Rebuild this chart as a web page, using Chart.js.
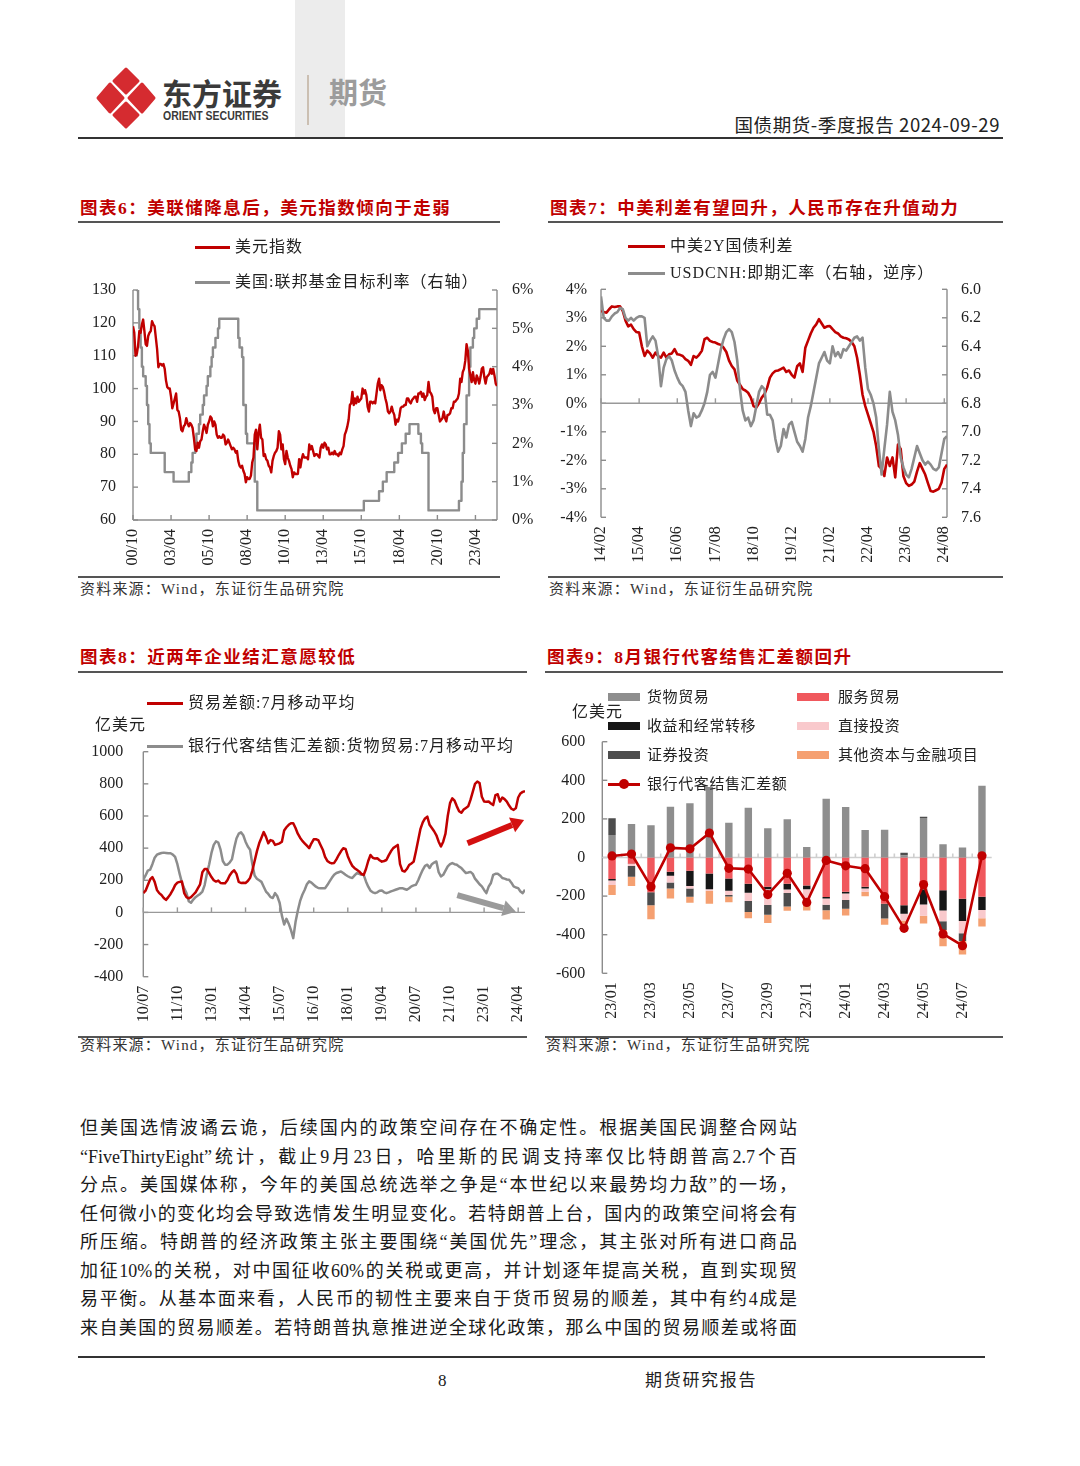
<!DOCTYPE html>
<html lang="zh-CN">
<head>
<meta charset="utf-8">
<title>国债期货-季度报告</title>
<script src="https://cdn.jsdelivr.net/npm/chart.js@4.4.1/dist/chart.umd.min.js"></script>
<style>
html,body{margin:0;padding:0;background:#fff}
body{width:1080px;height:1466px;position:relative;overflow:hidden;font-family:"Liberation Serif","Noto Sans CJK SC",serif;color:#222}
.a{position:absolute;white-space:nowrap;line-height:1}
.rule{position:absolute;background:#555;height:1.5px}
.ttl{font-weight:700;color:#c00000;font-size:17.5px;letter-spacing:1.5px}
.src{font-size:15px;letter-spacing:1.2px;color:#333}
.lg{font-size:16px;letter-spacing:1px;color:#222}
.lg9{font-size:15px;letter-spacing:0.6px;color:#222}
.sw{position:absolute;height:3px}
.bx{position:absolute;height:8px;width:32px}
canvas{position:absolute}
.body{position:absolute;left:80px;top:1114px;width:717px;font-size:18px;line-height:28.5px;color:#1a1a1a}
.body div{text-align:justify;text-align-last:justify;height:28.5px}
</style>
</head>
<body>
<!-- header -->
<div style="position:absolute;left:295px;top:0;width:50px;height:137px;background:#ececec"></div>
<svg style="position:absolute;left:96px;top:66px" width="60" height="64" viewBox="0 0 60 64">
  <g fill="#d52b30" stroke="#d52b30" stroke-width="3" stroke-linejoin="round">
    <path d="M30 3 L42 15 L30 27 L18 15 Z"/>
    <path d="M14 18 L27 32 L14 46 L2 32 Z"/>
    <path d="M46 18 L58 32 L46 46 L33 32 Z"/>
    <path d="M30 37 L42 49 L30 61 L18 49 Z"/>
  </g>
</svg>
<div class="a" style="left:162px;top:77px;font-family:'Noto Sans CJK SC';font-weight:700;font-size:30px;color:#3a3a3a">东方证券</div>
<div class="a" style="left:163px;top:110px;font-family:'Liberation Sans';font-weight:700;font-size:12.5px;color:#3a3a3a;transform:scaleX(0.84);transform-origin:left">ORIENT SECURITIES</div>
<div style="position:absolute;left:307px;top:75px;width:1.5px;height:50px;background:#cbbfb2"></div>
<div class="a" style="left:329px;top:77px;font-family:'Noto Sans CJK SC';font-weight:700;font-size:29px;color:#9c9c9c">期货</div>
<div class="a" style="right:80px;top:114.5px;font-family:'Noto Sans CJK SC';font-size:18.5px;letter-spacing:0.6px;color:#222">国债期货-季度报告 2024-09-29</div>
<div style="position:absolute;left:78px;top:137px;width:925px;height:2px;background:#333"></div>

<!-- titles & rules -->
<div class="a ttl" style="left:80px;top:200px">图表6：美联储降息后，美元指数倾向于走弱</div>
<div class="a ttl" style="left:550px;top:200px">图表7：中美利差有望回升，人民币存在升值动力</div>
<div class="rule" style="left:78px;top:221px;width:422px"></div>
<div class="rule" style="left:548px;top:221px;width:455px"></div>
<div class="rule" style="left:78px;top:576px;width:422px"></div>
<div class="rule" style="left:548px;top:576px;width:455px"></div>
<div class="a src" style="left:80px;top:582px">资料来源：Wind，东证衍生品研究院</div>
<div class="a src" style="left:549px;top:582px">资料来源：Wind，东证衍生品研究院</div>

<div class="a ttl" style="left:80px;top:649px">图表8：近两年企业结汇意愿较低</div>
<div class="a ttl" style="left:547px;top:649px">图表9：8月银行代客结售汇差额回升</div>
<div class="rule" style="left:78px;top:671px;width:449px"></div>
<div class="rule" style="left:545px;top:671px;width:458px"></div>
<div class="rule" style="left:78px;top:1036px;width:449px"></div>
<div class="rule" style="left:545px;top:1036px;width:458px"></div>
<div class="a src" style="left:80px;top:1038px">资料来源：Wind，东证衍生品研究院</div>
<div class="a src" style="left:546px;top:1038px">资料来源：Wind，东证衍生品研究院</div>

<!-- canvases -->
<canvas id="c6" width="460" height="300" style="left:78px;top:280px"></canvas>
<canvas id="c7" width="455" height="300" style="left:548px;top:280px"></canvas>
<canvas id="c8" width="460" height="300" style="left:78px;top:740px"></canvas>
<canvas id="c9" width="455" height="300" style="left:548px;top:735px"></canvas>

<!-- legends chart 6 -->
<div class="sw" style="left:195px;top:245.5px;width:35px;background:#c00000"></div>
<div class="a lg" style="left:235px;top:239px">美元指数</div>
<div class="sw" style="left:195px;top:280.5px;width:35px;background:#8c8c8c"></div>
<div class="a lg" style="left:235px;top:274px">美国:联邦基金目标利率（右轴）</div>
<!-- legends chart 7 -->
<div class="sw" style="left:628px;top:244.5px;width:37px;background:#c00000"></div>
<div class="a lg" style="left:670px;top:238px">中美2Y国债利差</div>
<div class="sw" style="left:628px;top:271.5px;width:37px;background:#8c8c8c"></div>
<div class="a lg" style="left:670px;top:265px">USDCNH:即期汇率（右轴，逆序）</div>
<!-- legends chart 8 -->
<div class="sw" style="left:147px;top:701.5px;width:36px;background:#c00000"></div>
<div class="a lg" style="left:188px;top:695px">贸易差额:7月移动平均</div>
<div class="a lg" style="left:95px;top:717px">亿美元</div>
<div class="sw" style="left:147px;top:744.5px;width:36px;background:#8c8c8c"></div>
<div class="a lg" style="left:188px;top:738px">银行代客结售汇差额:货物贸易:7月移动平均</div>
<!-- legends chart 9 -->
<div class="a lg" style="left:572px;top:704px">亿美元</div>
<div class="bx" style="left:608px;top:693px;background:#8e8e8e"></div>
<div class="a lg9" style="left:647px;top:689.5px">货物贸易</div>
<div class="bx" style="left:797px;top:693px;background:#f0585d"></div>
<div class="a lg9" style="left:838px;top:689.5px">服务贸易</div>
<div class="bx" style="left:608px;top:722px;background:#161616"></div>
<div class="a lg9" style="left:647px;top:718.5px">收益和经常转移</div>
<div class="bx" style="left:797px;top:722px;background:#f9c9cc"></div>
<div class="a lg9" style="left:838px;top:718.5px">直接投资</div>
<div class="bx" style="left:608px;top:751px;background:#4d4d4d"></div>
<div class="a lg9" style="left:647px;top:747.5px">证券投资</div>
<div class="bx" style="left:797px;top:751px;background:#f5a071"></div>
<div class="a lg9" style="left:838px;top:747.5px">其他资本与金融项目</div>
<div class="sw" style="left:608px;top:782.5px;width:32px;background:#c00000"></div>
<div style="position:absolute;left:619px;top:779px;width:10px;height:10px;border-radius:50%;background:#c00000"></div>
<div class="a lg9" style="left:647px;top:776.5px">银行代客结售汇差额</div>

<!-- body text -->
<div class="body">
<div>但美国选情波谲云诡，后续国内的政策空间存在不确定性。根据美国民调整合网站</div>
<div>“FiveThirtyEight”统计，截止9月23日，哈里斯的民调支持率仅比特朗普高2.7个百</div>
<div>分点。美国媒体称，今年的美国总统选举之争是“本世纪以来最势均力敌”的一场，</div>
<div>任何微小的变化均会导致选情发生明显变化。若特朗普上台，国内的政策空间将会有</div>
<div>所压缩。特朗普的经济政策主张主要围绕“美国优先”理念，其主张对所有进口商品</div>
<div>加征10%的关税，对中国征收60%的关税或更高，并计划逐年提高关税，直到实现贸</div>
<div>易平衡。从基本面来看，人民币的韧性主要来自于货币贸易的顺差，其中有约4成是</div>
<div>来自美国的贸易顺差。若特朗普执意推进逆全球化政策，那么中国的贸易顺差或将面</div>
</div>

<!-- footer -->
<div style="position:absolute;left:78px;top:1356px;width:907px;height:1.5px;background:#333"></div>
<div class="a" style="left:438px;top:1372px;font-size:17px">8</div>
<div class="a" style="left:645px;top:1372px;font-size:17px;letter-spacing:1.7px">期货研究报告</div>

<script>
// ================= DATA =================
// Chart 6: US dollar index (monthly, from 2000-10) and Fed funds target rate (change points)
const usdStart = '2000-10';
const usdIndex = [
119.0,117.0,110.0,
110.5,113.0,117.5,117.0,119.5,121.0,117.5,113.5,113.0,116.0,117.0,117.5,
120.5,119.5,119.0,115.5,112.0,106.5,107.5,107.5,107.0,107.5,106.0,102.5,
100.5,100.0,100.0,97.5,94.0,95.5,97.0,98.5,93.5,93.0,91.0,87.5,
87.0,88.5,89.0,91.0,89.5,88.5,89.5,89.0,88.0,85.0,81.5,81.0,
83.5,82.0,84.0,84.5,87.0,89.0,88.0,86.5,89.0,90.0,91.5,91.0,
88.5,90.0,89.0,86.0,85.0,85.5,85.0,85.0,86.0,85.5,83.0,83.5,
84.5,83.5,82.5,81.5,82.0,81.5,80.5,81.0,78.0,76.5,76.0,76.5,
75.0,74.0,71.5,73.0,72.5,72.5,73.5,77.5,79.0,86.0,87.5,81.5,
86.5,89.0,85.0,84.5,79.5,80.0,78.5,78.0,76.5,76.0,74.5,78.0,
79.5,80.5,81.0,82.0,87.0,86.0,81.5,83.0,78.5,77.0,81.0,79.0,
78.0,76.5,75.5,73.0,74.5,74.0,74.0,74.0,78.5,76.0,78.5,80.0,
79.0,79.0,79.0,78.5,83.0,81.5,82.5,81.0,79.5,80.0,80.0,79.5,
79.0,82.0,83.0,82.0,83.5,83.0,81.5,82.0,80.0,80.0,80.5,80.0,
81.0,80.0,80.0,79.5,80.5,80.0,81.5,82.5,86.0,87.0,88.5,90.5,
95.0,95.5,99.0,95.0,97.0,95.5,97.5,96.0,96.5,97.0,100.0,98.5,
99.5,98.0,94.5,93.0,96.0,96.0,95.5,96.0,95.5,98.5,101.5,103.0,
99.5,101.0,100.5,99.0,97.0,95.5,93.0,92.5,93.0,94.5,93.0,92.0,
89.0,90.5,90.0,91.5,94.0,94.5,94.5,95.0,95.0,97.0,97.0,96.0,
95.5,96.5,97.0,97.5,97.5,96.0,98.5,98.5,99.0,97.5,98.5,96.5,
97.5,98.0,102.0,99.0,98.5,97.5,93.5,92.5,94.0,94.0,92.0,90.0,
90.5,91.0,93.0,91.0,90.0,92.0,92.0,92.5,94.0,94.0,96.0,96.0,
96.5,97.0,98.5,103.0,102.0,105.0,106.0,108.5,113.5,111.5,106.0,104.0,
102.0,105.0,102.5,101.5,104.0,103.0,101.5,103.5,106.0,106.5,103.5,101.5,
103.5,104.0,104.5,106.0,104.5,106.0,104.0,101.5,100.8
];
const fedDates = ['2000-10','2001-01','2001-02','2001-03','2001-04','2001-05','2001-06','2001-08','2001-09','2001-10','2001-11','2001-12',
'2002-11','2003-06','2004-06','2004-08','2004-09','2004-11','2004-12','2005-02','2005-03','2005-05','2005-06','2005-08','2005-09','2005-11','2005-12',
'2006-01','2006-03','2006-05','2006-06','2007-09','2007-10','2007-12','2008-01','2008-03','2008-04','2008-10','2008-12',
'2015-12','2016-12','2017-03','2017-06','2017-12','2018-03','2018-06','2018-09','2018-12','2019-07','2019-09','2019-10','2020-03',
'2022-03','2022-05','2022-06','2022-07','2022-09','2022-11','2022-12','2023-02','2023-03','2023-05','2023-07','2024-09'];
const fedRates = [6.5,6.0,5.5,5.0,4.5,4.0,3.75,3.5,3.0,2.5,2.0,1.75,
1.25,1.0,1.25,1.5,1.75,2.0,2.25,2.5,2.75,3.0,3.25,3.5,3.75,4.0,4.25,
4.5,4.75,5.0,5.25,4.75,4.5,4.25,3.0,2.25,2.0,1.0,0.25,
0.5,0.75,1.0,1.25,1.5,1.75,2.0,2.25,2.5,2.25,2.0,1.75,0.25,
0.5,1.0,1.75,2.5,3.25,4.0,4.5,4.75,5.0,5.25,5.5,5.5];
const c6TickMonths = ['2000-10','2003-04','2005-10','2008-04','2010-10','2013-04','2015-10','2018-04','2020-10','2023-04'];
const c6TickLabels = ['00/10','03/04','05/10','08/04','10/10','13/04','15/10','18/04','20/10','23/04'];

// Chart 7: China-US 2Y spread (%) and USDCNH spot (monthly, from 2014-02)
const c7Start = '2014-02';
const cnUs2y = [3.25,3.2,3.18,3.3,3.4,3.38,3.4,3.4,3.24,2.9,
2.7,2.76,2.6,2.5,2.48,2.0,1.66,1.85,1.75,1.6,
1.78,1.65,1.6,1.78,1.6,1.72,1.75,1.9,1.72,1.7,
1.66,1.55,1.49,1.35,1.66,1.6,1.7,1.84,2.25,2.3,
2.19,2.15,2.13,2.08,2.05,1.95,1.8,1.5,1.31,1.19,
0.8,0.65,0.5,0.45,0.37,0.2,-0.1,-0.15,0.0,0.2,
0.32,0.55,0.9,1.05,1.13,1.15,1.2,1.25,1.1,1.15,
1.0,0.9,1.3,1.4,1.1,1.95,2.2,2.45,2.65,2.77,
2.95,2.8,2.65,2.7,2.71,2.6,2.5,2.45,2.35,2.3,
2.28,2.24,2.15,2.0,1.6,1.0,0.3,-0.1,-0.4,-0.7,
-1.0,-1.5,-2.2,-2.3,-2.55,-1.9,-2.2,-1.9,-2.6,-1.45,
-1.6,-2.55,-2.8,-2.9,-2.85,-2.75,-2.4,-2.1,-2.3,-2.5,
-2.8,-3.08,-3.1,-3.05,-3.0,-2.78,-2.3,-2.15];
const usdcnh = [6.05,6.2,6.22,6.22,6.19,6.17,6.16,6.13,6.14,6.2,
6.22,6.2,6.22,6.2,6.19,6.19,6.2,6.4,6.36,6.33,
6.36,6.47,6.68,6.55,6.49,6.47,6.5,6.57,6.62,6.66,
6.68,6.72,6.85,6.96,6.87,6.9,6.89,6.85,6.8,6.72,
6.6,6.58,6.62,6.52,6.42,6.35,6.3,6.28,6.3,6.37,
6.5,6.7,6.85,6.92,6.9,6.96,6.92,6.82,6.72,6.68,
6.7,6.88,6.88,6.92,7.05,7.14,7.1,6.98,7.04,6.95,
6.93,7.0,7.07,7.1,7.14,7.05,6.9,6.82,6.72,6.62,
6.52,6.48,6.44,6.5,6.52,6.4,6.47,6.44,6.48,6.42,
6.43,6.4,6.37,6.34,6.33,6.36,6.34,6.55,6.7,6.74,
6.8,6.9,7.12,7.3,7.12,6.95,6.72,6.86,6.92,7.02,
7.18,7.25,7.3,7.32,7.26,7.18,7.1,7.15,7.2,7.23,
7.21,7.23,7.26,7.27,7.25,7.15,7.05,7.03];
const c7TickMonths = ['2014-02','2015-04','2016-06','2017-08','2018-10','2019-12','2021-02','2022-04','2023-06','2024-08'];
const c7TickLabels = ['14/02','15/04','16/06','17/08','18/10','19/12','21/02','22/04','23/06','24/08'];

// Chart 8: trade balance 7M MA and bank FX settlement (goods) 7M MA, 亿美元, monthly from 2010-07
const c8Start = '2010-07';
const c8Trade = [120,135,170,205,220,190,140,120,108,90,
78,95,115,140,170,185,190,192,120,95,
88,95,110,125,150,175,250,270,270,245,
220,200,192,198,183,181,181,200,230,250,
262,240,190,183,185,183,195,215,260,320,
380,430,465,500,470,430,450,445,420,425,
430,440,510,530,545,555,555,525,490,465,
445,430,415,400,430,455,455,450,420,390,
345,320,310,305,308,330,357,380,399,395,
350,316,290,275,265,255,240,233,270,320,
357,340,335,337,325,316,320,326,355,380,
400,410,420,300,260,254,270,295,305,316,
380,450,520,560,585,596,545,525,505,480,
440,410,440,490,600,680,710,695,660,630,
620,640,650,660,700,750,800,814,805,720,
690,688,690,678,668,730,735,690,715,705,
690,665,645,638,650,715,740,750,755];
const c8Bank = [203,230,260,266,300,340,359,365,370,372,
370,368,368,360,345,300,240,185,150,120,
70,60,80,95,105,115,130,170,240,300,
370,420,442,435,390,320,297,297,310,330,
400,460,490,498,480,440,410,390,300,230,
210,200,190,160,130,115,95,90,120,100,
60,-20,-75,-40,-70,-110,-160,-60,10,70,
110,140,175,193,185,172,160,152,151,150,
151,170,193,215,234,245,250,255,245,234,
225,218,214,230,245,240,234,234,193,160,
135,125,120,125,135,137,125,120,125,131,
136,141,146,151,151,146,141,150,162,168,
172,200,234,265,290,297,276,300,310,317,
250,224,234,260,286,300,307,300,297,285,
276,260,245,248,252,240,210,193,175,162,
140,120,160,183,234,240,241,230,214,210,
205,203,185,162,155,151,130,120,141];
const c8TickMonths = ['2010-07','2011-10','2013-01','2014-04','2015-07','2016-10','2018-01','2019-04','2020-07','2021-10','2023-01','2024-04'];
const c8TickLabels = ['10/07','11/10','13/01','14/04','15/07','16/10','18/01','19/04','20/07','21/10','23/01','24/04'];
// trend arrows [month index, value]
const c8Arrows = [
  {from:[142.7,430], to:[167.6,575], color:'#d41010'},
  {from:[138.2,108], to:[164.0,4], color:'#9a9a9a'}
];

// Chart 9: balance of payments breakdown of bank FX settlement, 亿美元
const c9Labels = ['23/01','23/02','23/03','23/04','23/05','23/06','23/07','23/08','23/09','23/10','23/11','23/12','24/01','24/02','24/03','24/04','24/05','24/06','24/07','24/08'];
const c9Goods      = [117,173,167,263,281,365,180,258,151,198,54,305,262,142,144,10,205,69,52,372];
const c9Services   = [-112,-32,-180,-74,-69,-83,-109,-136,-152,-136,-145,-205,-178,-152,-240,-247,-164,-170,-214,-204];
const c9Income     = [-7,-2,0,-21,-79,-82,-63,-46,-12,-30,-20,-8,-9,-8,0,-45,-80,-105,-115,-68];
const c9FDI        = [-23,-10,0,-35,-12,-7,-22,-43,-82,-18,-80,-32,-33,-17,0,-35,-58,-55,-63,-43];
const c9Securities = [86,-56,-68,-31,-43,0,-8,-58,-50,-70,0,-28,-45,0,-76,14,6,-45,-40,0];
const c9Other      = [-52,-48,-72,-52,-31,-67,-30,-32,-43,-22,-30,-48,-35,-24,-33,-30,-40,-85,-70,-43];
const c9Net        = [8,18,-151,50,45,127,-56,-60,-192,-82,-233,-15,-43,-58,-203,-367,-140,-396,-457,9];

// ================= STYLE / HELPERS =================
const RED = '#c00000', GRAY = '#8c8c8c', AXIS = '#8c8c8c';
Chart.defaults.font.family = '"Liberation Serif","Noto Sans CJK SC",serif';
Chart.defaults.font.size = 16;
Chart.defaults.color = '#222';
Chart.defaults.animation = false;
Chart.defaults.plugins.legend.display = false;
Chart.defaults.plugins.tooltip.enabled = false;
Chart.defaults.elements.point.radius = 0;
Chart.defaults.elements.line.tension = 0;
Chart.defaults.elements.line.borderJoinStyle = 'round';

function mIdx(d, start){
  const [y,m] = d.split('-').map(Number), [sy,sm] = start.split('-').map(Number);
  return (y-sy)*12 + (m-sm);
}
function deco(spec){
  return {
    id:'deco',
    beforeDatasetsDraw(chart){
      const ctx = chart.ctx, a = chart.chartArea, S = chart.scales;
      ctx.save();
      (spec.v||[]).forEach(ax=>{
        const s = S[ax.id], left = ax.side==='left', x = left ? a.left : a.right, d = left ? 1 : -1;
        ctx.strokeStyle = ax.color || AXIS; ctx.lineWidth = 1.4;
        ctx.beginPath(); ctx.moveTo(x, a.top); ctx.lineTo(x, a.bottom); ctx.stroke();
        s.ticks.forEach(t=>{ const y = s.getPixelForValue(t.value); ctx.beginPath(); ctx.moveTo(x,y); ctx.lineTo(x+d*5,y); ctx.stroke(); });
      });
      if (spec.h){
        const h = spec.h, xs = S.x;
        const y = h.value === undefined ? a.bottom : S[h.scale].getPixelForValue(h.value);
        ctx.strokeStyle = h.color || AXIS; ctx.lineWidth = h.width || 1.4;
        ctx.beginPath(); ctx.moveTo(a.left, y); ctx.lineTo(a.right, y); ctx.stroke();
        let px = [];
        if (h.between){ for (let i=1;i<xs.ticks.length;i++) px.push((xs.getPixelForTick(i-1)+xs.getPixelForTick(i))/2); }
        else px = xs.ticks.map(t=>xs.getPixelForValue(t.value));
        px.forEach(p=>{ ctx.beginPath(); ctx.moveTo(p,y); ctx.lineTo(p,y-(h.tick||5)); ctx.stroke(); });
      }
      ctx.restore();
    }
  };
}
const noGrid = {display:false, drawTicks:false};
const noBorder = {display:false};
// fix axis thickness and remove automatic label overflow padding
function fitV(w){ return function(s){ s.width = w; s.paddingTop = 0; s.paddingBottom = 0; }; }
function fitH(h){ return function(s){ s.height = h; s.paddingLeft = 0; s.paddingRight = 0; }; }
function xTime(min, max, tickMonths, start, labels, h){
  return {
    type:'linear', min:min, max:max, grid:noGrid, border:noBorder,
    afterBuildTicks(s){ s.ticks = tickMonths.map(d=>({value:mIdx(d,start)})); },
    ticks:{autoSkip:false, minRotation:90, maxRotation:90, padding:9, callback:(v,i)=>labels[i]},
    afterFit: fitH(h)
  };
}

// ================= CHART 6 =================
new Chart(document.getElementById('c6'), {
  type:'line',
  data:{datasets:[
    {label:'美元指数', data:usdIndex.map((v,i)=>({x:i,y:v})), borderColor:RED, borderWidth:2.4, yAxisID:'y'},
    {label:'美国:联邦基金目标利率（右轴）', data:fedDates.map((d,i)=>({x:mIdx(d,usdStart), y:fedRates[i]})), borderColor:GRAY, borderWidth:2.4, stepped:true, yAxisID:'y1'}
  ]},
  options:{
    responsive:false, layout:{padding:{top:10,left:0,right:0,bottom:0}},
    scales:{
      x: xTime(0, 287, c6TickMonths, usdStart, c6TickLabels, 60),
      y:{position:'left', min:60, max:130, grid:noGrid, border:noBorder, ticks:{stepSize:10, padding:17}, afterFit: fitV(55)},
      y1:{position:'right', min:0, max:6, grid:noGrid, border:noBorder, ticks:{stepSize:1, padding:15, callback:v=>v+'%'}, afterFit: fitV(41)}
    }
  },
  plugins:[deco({v:[{id:'y',side:'left'},{id:'y1',side:'right'}], h:{}})]
});

// ================= CHART 7 =================
new Chart(document.getElementById('c7'), {
  type:'line',
  data:{datasets:[
    {label:'USDCNH:即期汇率（右轴，逆序）', data:usdcnh.map((v,i)=>({x:i,y:v})), borderColor:GRAY, borderWidth:2.6, yAxisID:'y1', order:0},
    {label:'中美2Y国债利差', data:cnUs2y.map((v,i)=>({x:i,y:v})), borderColor:RED, borderWidth:2.6, yAxisID:'y', order:1}
  ]},
  options:{
    responsive:false, layout:{padding:{top:9.3,left:0,right:0,bottom:0}},
    scales:{
      x: xTime(0, 127, c7TickMonths, c7Start, c7TickLabels, 62.7),
      y:{position:'left', min:-4, max:4, grid:noGrid, border:noBorder, ticks:{stepSize:1, padding:14, callback:v=>v+'%'}, afterFit: fitV(53)},
      y1:{position:'right', min:6.0, max:7.6, reverse:true, grid:noGrid, border:noBorder, ticks:{stepSize:0.2, padding:14, callback:v=>Number(v).toFixed(1)}, afterFit: fitV(56)}
    }
  },
  plugins:[deco({v:[{id:'y',side:'left'},{id:'y1',side:'right'}], h:{scale:'y', value:0, color:'#999'}})]
});

// ================= CHART 8 =================
const arrowPlugin = {
  id:'arrows',
  afterDatasetsDraw(chart){
    const ctx = chart.ctx, xs = chart.scales.x, ys = chart.scales.y;
    c8Arrows.forEach(ar=>{
      const x0 = xs.getPixelForValue(ar.from[0]), y0 = ys.getPixelForValue(ar.from[1]);
      const x1 = xs.getPixelForValue(ar.to[0]), y1 = ys.getPixelForValue(ar.to[1]);
      const ang = Math.atan2(y1-y0, x1-x0), hl = 13, hw = 8;
      const bx = x1 - hl*Math.cos(ang), by = y1 - hl*Math.sin(ang);
      ctx.save();
      ctx.strokeStyle = ctx.fillStyle = ar.color; ctx.lineWidth = 6;
      ctx.beginPath(); ctx.moveTo(x0,y0); ctx.lineTo(bx,by); ctx.stroke();
      ctx.beginPath(); ctx.moveTo(x1,y1);
      ctx.lineTo(bx + hw*Math.sin(ang), by - hw*Math.cos(ang));
      ctx.lineTo(bx - hw*Math.sin(ang), by + hw*Math.cos(ang));
      ctx.closePath(); ctx.fill();
      ctx.restore();
    });
  }
};
new Chart(document.getElementById('c8'), {
  type:'line',
  data:{datasets:[
    {label:'贸易差额:7月移动平均', data:c8Trade.map((v,i)=>({x:i,y:v})), borderColor:RED, borderWidth:2.5},
    {label:'银行代客结售汇差额:货物贸易:7月移动平均', data:c8Bank.map((v,i)=>({x:i,y:v})), borderColor:GRAY, borderWidth:2.5}
  ]},
  options:{
    responsive:false, layout:{padding:{top:11.7,left:0,right:13,bottom:0}},
    scales:{
      x: xTime(0, 168, c8TickMonths, c8Start, c8TickLabels, 63.3),
      y:{position:'left', min:-400, max:1000, grid:noGrid, border:noBorder, ticks:{stepSize:200, padding:20, callback:v=>String(v)}, afterFit: fitV(65.3)}
    }
  },
  plugins:[deco({v:[{id:'y',side:'left'}], h:{scale:'y', value:0, color:'#999'}}), arrowPlugin]
});

// ================= CHART 9 =================
new Chart(document.getElementById('c9'), {
  type:'bar',
  data:{labels:c9Labels, datasets:[
    {type:'line', label:'银行代客结售汇差额', data:c9Net, borderColor:RED, borderWidth:2.6, pointRadius:4.6, pointBackgroundColor:RED, pointBorderColor:RED, pointBorderWidth:0, order:0, stack:'net'},
    {label:'货物贸易', data:c9Goods, backgroundColor:'#8e8e8e', order:1, stack:'bop'},
    {label:'服务贸易', data:c9Services, backgroundColor:'#f0585d', order:1, stack:'bop'},
    {label:'收益和经常转移', data:c9Income, backgroundColor:'#161616', order:1, stack:'bop'},
    {label:'直接投资', data:c9FDI, backgroundColor:'#f9c9cc', order:1, stack:'bop'},
    {label:'证券投资', data:c9Securities, backgroundColor:'#4d4d4d', order:1, stack:'bop'},
    {label:'其他资本与金融项目', data:c9Other, backgroundColor:'#f5a071', order:1, stack:'bop'}
  ]},
  options:{
    responsive:false, layout:{padding:{top:6.7,left:0,right:11.3,bottom:0}},
    datasets:{bar:{barPercentage:0.38, categoryPercentage:1}},
    scales:{
      x:{stacked:true, grid:noGrid, border:noBorder, ticks:{autoSkip:false, minRotation:90, maxRotation:90, padding:9, callback:(v,i)=> i%2===0 ? c9Labels[i] : ''}, afterFit: fitH(61.7)},
      y:{stacked:true, min:-600, max:600, grid:noGrid, border:noBorder, ticks:{stepSize:200, padding:17}, afterFit: fitV(54.3)}
    }
  },
  plugins:[deco({v:[{id:'y',side:'left'}], h:{scale:'y', value:0, color:'#cfcfcf', width:1.6, between:true, tick:4}})]
});
</script>
</body>
</html>
